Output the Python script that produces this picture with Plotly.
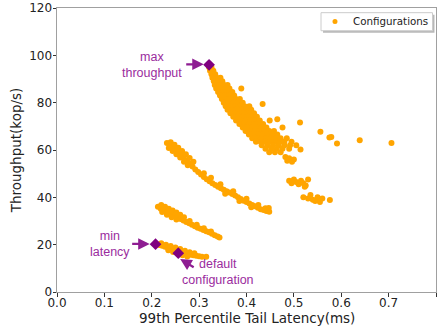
import plotly.graph_objects as go

# Tail latency (ms) and throughput (kop/s) of each configuration, grouped by band
lat_top = [
    0.321, 0.326, 0.323, 0.330, 0.326, 0.334, 0.328, 0.337, 0.345, 0.331, 0.340, 0.349,
    0.333, 0.343, 0.353, 0.360, 0.336, 0.346, 0.356, 0.364, 0.389, 0.340, 0.350, 0.360, 0.370,
    0.344, 0.354, 0.364, 0.374, 0.348, 0.358, 0.368, 0.378, 0.386,
    0.352, 0.362, 0.372, 0.382, 0.392, 0.356, 0.366, 0.376, 0.386, 0.396, 0.406,
    0.360, 0.370, 0.380, 0.390, 0.400, 0.410, 0.366, 0.376, 0.386, 0.396, 0.406, 0.416,
    0.372, 0.382, 0.392, 0.402, 0.412, 0.422, 0.378, 0.388, 0.398, 0.408, 0.418, 0.428, 0.449,
    0.385, 0.395, 0.405, 0.415, 0.425, 0.435, 0.392, 0.402, 0.412, 0.422, 0.432, 0.442, 0.476,
    0.398, 0.408, 0.418, 0.428, 0.438, 0.448, 0.458, 0.405, 0.415, 0.425, 0.435, 0.445, 0.455, 0.465,
    0.412, 0.422, 0.432, 0.442, 0.452, 0.462, 0.472, 0.485,
    0.420, 0.430, 0.440, 0.450, 0.460, 0.470, 0.480, 0.495,
    0.432, 0.444, 0.456, 0.468, 0.480, 0.492, 0.505, 0.440, 0.452, 0.464, 0.476, 0.490,
    0.448, 0.460, 0.472, 0.482, 0.490, 0.486, 0.496, 0.500,
    0.434, 0.465, 0.513, 0.556, 0.575, 0.579, 0.591, 0.639, 0.706, 0.514,
    0.490, 0.495, 0.500, 0.505, 0.510, 0.515, 0.520, 0.525, 0.530, 0.523,
    0.520, 0.530, 0.535, 0.540, 0.545, 0.550, 0.555, 0.560, 0.576,
]
tput_top = [
    95.0, 95.0, 93.5, 93.5, 92.0, 92.0, 90.5, 90.5, 90.5, 89.0, 89.0, 89.0,
    87.5, 87.5, 87.5, 87.5, 86.0, 86.0, 86.0, 86.0, 86.0, 84.5, 84.5, 84.5, 84.5,
    83.0, 83.0, 83.0, 83.0, 81.5, 81.5, 81.5, 81.5, 81.5,
    80.0, 80.0, 80.0, 80.0, 80.0, 78.5, 78.5, 78.5, 78.5, 78.5, 78.5,
    77.0, 77.0, 77.0, 77.0, 77.0, 77.0, 75.5, 75.5, 75.5, 75.5, 75.5, 75.5,
    74.0, 74.0, 74.0, 74.0, 74.0, 74.0, 72.5, 72.5, 72.5, 72.5, 72.5, 72.5, 72.5,
    71.0, 71.0, 71.0, 71.0, 71.0, 71.0, 69.5, 69.5, 69.5, 69.5, 69.5, 69.5, 69.5,
    68.0, 68.0, 68.0, 68.0, 68.0, 68.0, 68.0, 66.5, 66.5, 66.5, 66.5, 66.5, 66.5, 66.5,
    65.0, 65.0, 65.0, 65.0, 65.0, 65.0, 65.0, 65.0,
    63.5, 63.5, 63.5, 63.5, 63.5, 63.5, 63.5, 63.5,
    62.0, 62.0, 62.0, 62.0, 62.0, 62.0, 62.0, 60.5, 60.5, 60.5, 60.5, 60.5,
    59.0, 59.0, 59.0, 57.0, 56.5, 55.5, 55.0, 56.0,
    79.4, 73.0, 71.6, 67.7, 65.3, 65.5, 62.7, 64.1, 63.0, 60.2,
    47.0, 46.0, 47.5, 46.5, 45.5, 47.0, 46.0, 45.0, 47.5, 44.5,
    40.0, 39.5, 41.0, 39.0, 38.5, 40.0, 38.0, 39.5, 38.9,
]

lat_mid = [
    0.232, 0.238, 0.244, 0.250, 0.256, 0.262, 0.268, 0.274, 0.280, 0.286, 0.292, 0.298,
    0.304, 0.310, 0.316, 0.322, 0.328, 0.334, 0.340, 0.346, 0.352, 0.358, 0.364, 0.370,
    0.376, 0.382, 0.388, 0.394, 0.400, 0.406, 0.412, 0.418, 0.424, 0.430, 0.436, 0.442, 0.448,
    0.240, 0.248, 0.256, 0.264, 0.272, 0.280, 0.288,
    0.236, 0.244, 0.252, 0.260, 0.268, 0.276,
    0.310, 0.325, 0.345, 0.355, 0.372, 0.385, 0.400, 0.410, 0.425, 0.440, 0.447,
]
tput_mid = [
    63.0, 62.0, 61.0, 60.0, 59.0, 57.8, 56.5, 55.3, 54.2, 53.0, 51.8, 50.7,
    49.6, 48.6, 47.6, 46.8, 46.0, 45.2, 44.5, 43.8, 43.2, 42.6, 42.0, 41.4,
    40.8, 40.0, 39.3, 38.6, 38.0, 37.4, 36.8, 36.2, 35.6, 35.0, 34.6, 34.2, 33.9,
    63.3, 62.2, 61.0, 59.6, 58.2, 56.6, 55.0,
    60.8, 59.6, 58.2, 56.8, 55.0, 53.6,
    50.2, 48.3, 45.5, 41.5, 42.6, 38.5, 39.4, 35.8, 36.8, 35.4, 35.5,
]

lat_low = [
    0.213, 0.219, 0.225, 0.231, 0.237, 0.243, 0.249, 0.255, 0.261, 0.267, 0.273, 0.279,
    0.285, 0.291, 0.297, 0.303, 0.309, 0.315, 0.321, 0.327, 0.333, 0.339, 0.343,
    0.220, 0.228, 0.236, 0.244, 0.252, 0.260, 0.268,
    0.222, 0.232, 0.242, 0.252,
    0.280, 0.295, 0.310, 0.325,
]
tput_low = [
    36.0, 35.2, 34.5, 33.8, 33.2, 32.6, 32.0, 31.4, 30.8, 30.2, 29.6, 29.0,
    28.4, 27.8, 27.2, 26.7, 26.2, 25.7, 25.2, 24.6, 24.0, 23.5, 23.0,
    36.8, 36.0, 35.2, 34.4, 33.6, 32.6, 31.6,
    33.8, 32.6, 31.6, 30.6,
    30.0, 28.4, 26.9, 25.6,
]

lat_base = [
    0.210, 0.216, 0.222, 0.228, 0.234, 0.240, 0.246, 0.252, 0.258, 0.264, 0.270, 0.276,
    0.282, 0.288, 0.294, 0.300, 0.306, 0.315,
    0.220, 0.230, 0.240, 0.250, 0.260, 0.270, 0.280, 0.290,
    0.235, 0.245, 0.255, 0.265, 0.275,
]
tput_base = [
    20.3, 19.9, 19.5, 19.1, 18.7, 18.3, 17.9, 17.5, 17.1, 16.7, 16.3, 16.0,
    15.7, 15.5, 15.3, 15.1, 14.9, 14.9,
    20.6, 20.0, 19.4, 18.8, 18.2, 17.4, 16.8, 16.4,
    17.6, 16.9, 16.2, 15.5, 15.0,
]

# Highlighted configurations
key_names = ["max throughput", "min latency", "default configuration"]
key_lat = [0.321, 0.208, 0.256]
key_tput = [96.0, 20.2, 16.4]

x_ticks = [0.0, 0.1, 0.2, 0.3, 0.4, 0.5, 0.6, 0.7, 0.8]
y_ticks = [0, 20, 40, 60, 80, 100, 120]

lat_all = lat_top + lat_mid + lat_low + lat_base
tput_all = tput_top + tput_mid + tput_low + tput_base

ORANGE = "#FFA500"
PURPLE = "#800080"
TEXT_PURPLE = "#9A2C9E"
FONT = "DejaVu Sans"
LABEL_FONT = "Liberation Sans"

fig = go.Figure()
fig.add_trace(go.Scatter(
    x=lat_all, y=tput_all, mode="markers", name="Configurations", showlegend=False,
    marker=dict(color=ORANGE, size=6, line=dict(width=0)),
))
fig.add_trace(go.Scatter(
    x=key_lat, y=key_tput, mode="markers", showlegend=False,
    marker=dict(color=PURPLE, size=9, symbol="diamond", line=dict(width=0)),
))

# Text labels for the highlighted points
labels = [
    dict(text="max<br>throughput", x=0.200, y=96.0),
    dict(text="min<br>latency", x=0.111, y=20.3),
    dict(text="default<br>configuration", x=0.339, y=8.3),
]
for lab in labels:
    fig.add_annotation(x=lab["x"], y=lab["y"], text=lab["text"], showarrow=False,
                       font=dict(family=LABEL_FONT, size=12.5, color=TEXT_PURPLE),
                       xanchor="center", yanchor="middle")

# Arrows pointing at the highlighted points
arrows = [
    dict(x=0.3097, y=96.2, ax=-19, ay=0),
    dict(x=0.1956, y=20.3, ax=-19, ay=0),
    dict(x=0.2600, y=13.9, ax=15, ay=9),
]
for arr in arrows:
    fig.add_annotation(x=arr["x"], y=arr["y"], ax=arr["ax"], ay=arr["ay"],
                       axref="pixel", ayref="pixel", text="", showarrow=True,
                       arrowhead=2, arrowsize=1.0, arrowwidth=2.3,
                       arrowcolor="#8E1D92")

# Legend box (frame with a soft drop shadow) in the upper-right corner
fig.add_shape(type="rect", xref="paper", yref="paper",
              x0=0.7019, x1=0.9960, y0=0.9130, y1=0.9765,
              line=dict(width=0), fillcolor="rgba(0,0,0,0.28)")
fig.add_shape(type="rect", xref="paper", yref="paper",
              x0=0.6966, x1=0.9908, y0=0.9200, y1=0.9835,
              line=dict(color="#CCCCCC", width=1), fillcolor="white")
fig.add_shape(type="circle", xref="paper", yref="paper",
              x0=0.7335 - 0.0066, x1=0.7335 + 0.0066,
              y0=0.9525 - 0.0088, y1=0.9525 + 0.0088,
              line=dict(width=0), fillcolor=ORANGE)
fig.add_annotation(x=0.777, y=0.9525, xref="paper", yref="paper",
                   text="Configurations", showarrow=False,
                   xanchor="left", yanchor="middle",
                   font=dict(family=FONT, size=10.3, color="#222222"))

# X axis title, placed close under the tick labels
fig.add_annotation(x=0.5, y=-0.0898, xref="paper", yref="paper",
                   text="99th Percentile Tail Latency(ms)", showarrow=False,
                   xanchor="center", yanchor="middle", borderpad=0,
                   font=dict(family=FONT, size=13.5, color="#222222"))

axis_common = dict(
    showline=True, linecolor="#A0A0A0", linewidth=1, mirror=True, automargin=False,
    ticks="outside", ticklen=3.5, tickcolor="#333333", showgrid=False, zeroline=False,
    tickfont=dict(family=FONT, size=12, color="#222222"),
)
fig.update_xaxes(range=[0, 0.8], tickvals=x_ticks,
                 ticktext=[f"{v:.1f}" for v in x_ticks], ticklabelstandoff=-4,
                 **axis_common)
fig.update_yaxes(range=[0, 120], tickvals=y_ticks, ticklabelstandoff=-2,
                 title=dict(text="Throughput(kop/s)", standoff=4,
                            font=dict(family=FONT, size=13.5, color="#222222")),
                 **axis_common)

fig.update_layout(
    width=444, height=330,
    margin=dict(l=57, r=8, t=8, b=38),
    paper_bgcolor="white", plot_bgcolor="white",
    showlegend=False,
)

fig.write_html("out.html")
